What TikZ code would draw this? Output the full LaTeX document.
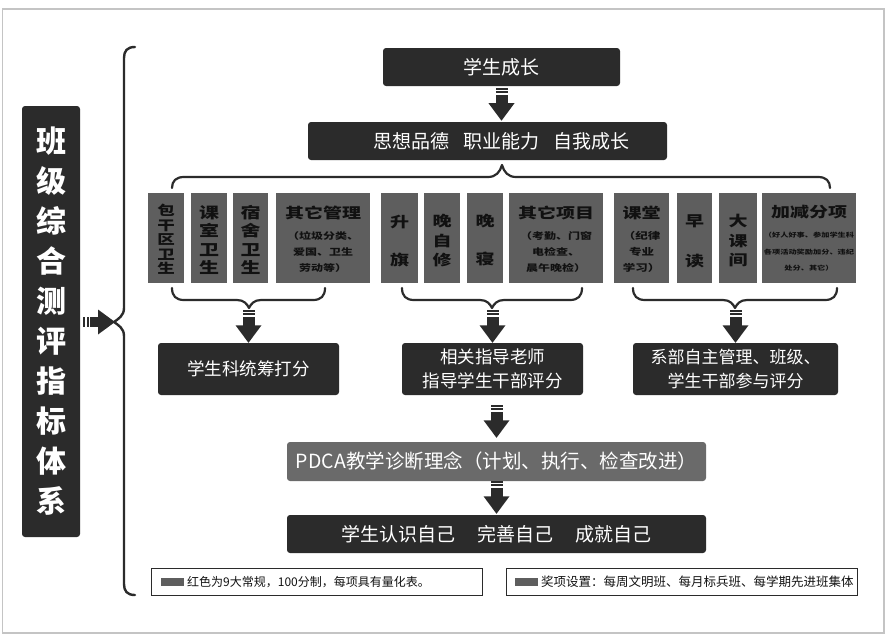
\documentclass[tikz,border=0pt]{standalone}
\usepackage{fontspec}
\usepackage{graphicx}
\setmainfont{Noto Sans CJK SC}
\usetikzlibrary{calc}
\definecolor{dk}{HTML}{2B2B2B}
\definecolor{gb}{HTML}{5E5E5E}
\definecolor{pd}{HTML}{6A6A6A}
\definecolor{fr}{HTML}{C4C4C4}
\definecolor{gt}{HTML}{111111}
\newcommand\vsq[1]{\scalebox{1}[0.76]{#1}}
\tikzset{
  dkbox/.style={fill=dk, rounded corners=3pt, text=white, inner sep=0pt, align=center},
  gbox/.style={fill=gb, inner sep=0pt},
  gtext/.style={text=gt, align=center, inner sep=0pt},
  gtitle/.style={text=gt, inner sep=0pt, font=\fontsize{19}{20}\selectfont\bfseries},
  brace/.style={draw=dk, line width=2.2pt, line cap=round, line join=round},
  legbox/.style={draw=dk, line width=1pt, inner sep=0pt, minimum height=27},
  legsq/.style={fill=gb, inner sep=0pt, minimum width=23, minimum height=8},
  darrow/.pic={
    \fill[dk] (-6,0) rectangle (6,2);
    \fill[dk] (-6,3.5) rectangle (6,5.5);
    \fill[dk] (-6,7) rectangle (6,16);
    \fill[dk] (-13,15.5) -- (13,15.5) -- (0,33) -- cycle;
  },
  rarrow/.pic={
    \fill[dk] (0,-5) rectangle (2,5);
    \fill[dk] (3.5,-5) rectangle (5.5,5);
    \fill[dk] (7,-5) rectangle (15.5,5);
    \fill[dk] (15,-12.5) -- (15,12.5) -- (32,0) -- cycle;
  }
}
\begin{document}
\begin{tikzpicture}[x=1pt,y=-1pt]
\path[use as bounding box] (0,0) rectangle (887,637);
\draw[fr, line width=1.2pt] (2.5,9) rectangle (884,633);

% left title
\node[dkbox, minimum width=58, minimum height=431, font=\fontsize{30}{40}\selectfont\bfseries] (title) at (51,321.5)
  {班\\级\\综\\合\\测\\评\\指\\标\\体\\系};
\pic at (83,322) {rarrow};

% big brace
\draw[brace, line width=2.4pt] (135,47) .. controls (127,47) and (124,51) .. (124,58) -- (124,308)
  .. controls (124,316) and (118,319) .. (114,322) .. controls (118,325) and (124,328) .. (124,336)
  -- (124,584) .. controls (124,591) and (127,595) .. (135,595);

% top
\node[dkbox, minimum width=237, minimum height=38, font=\fontsize{19}{22}\selectfont] (grow) at (501.5,67) {学生成长};
\pic at ($(grow.south)+(0,1.5)$) {darrow};
\node[dkbox, minimum width=359, minimum height=38, font=\fontsize{19}{22}\selectfont] (abil) at (487.5,141)
  {\hspace{28pt}思想品德\hspace{14pt}职业能力\hspace{14pt}自我成长};

% upper brace
\draw[brace] (172,188) .. controls (172,181) and (176,177) .. (184,177) -- (488,177)
  .. controls (496,177) and (500,172) .. (502,165) .. controls (504,172) and (508,177) .. (516,177)
  -- (818,177) .. controls (826,177) and (830,181) .. (830,188);

% gray boxes
\node[gbox, minimum width=36, minimum height=90] (b1) at (166,238) {};
\node[gbox, minimum width=36, minimum height=90] (b2) at (209,238) {};
\node[gbox, minimum width=35, minimum height=90] (b3) at (250.5,238) {};
\node[gbox, minimum width=94, minimum height=90] (b4) at (323,238) {};
\node[gbox, minimum width=37, minimum height=90] (b5) at (399.5,238) {};
\node[gbox, minimum width=36, minimum height=90] (b6) at (442,238) {};
\node[gbox, minimum width=36, minimum height=90] (b7) at (485,238) {};
\node[gbox, minimum width=94, minimum height=90] (b8) at (556,238) {};
\node[gbox, minimum width=55, minimum height=90] (b9) at (641.5,238) {};
\node[gbox, minimum width=35, minimum height=90] (b10) at (694.5,238) {};
\node[gbox, minimum width=38, minimum height=90] (b11) at (738,238) {};
\node[gbox, minimum width=94, minimum height=90] (b12) at (809,238) {};

% gray box texts
\node[gtext, font=\fontsize{17.5}{14.5}\selectfont\bfseries] (t1) at (166,239.5) {\vsq{包}\\\vsq{干}\\\vsq{区}\\\vsq{卫}\\\vsq{生}};
\node[gtext, font=\fontsize{20}{18.3}\selectfont\bfseries] (t2) at (209,240) {\vsq{课}\\\vsq{室}\\\vsq{卫}\\\vsq{生}};
\node[gtext, font=\fontsize{20}{18.3}\selectfont\bfseries] (t3) at (250.5,240) {\vsq{宿}\\\vsq{舍}\\\vsq{卫}\\\vsq{生}};
\node[gtitle] (h4) at (323,213) {\vsq{其它管理}};
\node[gtext, font=\fontsize{12}{16}\selectfont\bfseries] (s4) at (323,252) {\vsq{（垃圾分类、}\\\vsq{爱国、卫生}\\\vsq{劳动等）}};
\node[gtext, font=\fontsize{19}{38}\selectfont\bfseries] (t5) at (399.5,241.5) {\vsq{升}\\\vsq{旗}};
\node[gtext, font=\fontsize{19}{19.5}\selectfont\bfseries] (t6) at (442,241) {\vsq{晚}\\\vsq{自}\\\vsq{修}};
\node[gtext, font=\fontsize{19}{38}\selectfont\bfseries] (t7) at (485,240.5) {\vsq{晚}\\\vsq{寝}};
\node[gtitle] (h8) at (556,213) {\vsq{其它项目}};
\node[gtext, font=\fontsize{12}{16}\selectfont\bfseries] (s8) at (556,252) {\vsq{（考勤、门窗}\\\vsq{电检查、}\\\vsq{晨午晚检）}};
\node[gtitle] (h9) at (641.5,213) {\vsq{课堂}};
\node[gtext, font=\fontsize{12.5}{16}\selectfont\bfseries] (s9) at (641.5,252) {\vsq{（纪律}\\\vsq{专业}\\\vsq{学习）}};
\node[gtext, font=\fontsize{19}{40}\selectfont\bfseries] (t10) at (694.5,241.5) {\vsq{早}\\\vsq{读}};
\node[gtext, font=\fontsize{19}{19.7}\selectfont\bfseries] (t11) at (738,240.5) {\vsq{大}\\\vsq{课}\\\vsq{间}};
\node[gtitle] (h12) at (809,212) {\vsq{加减分项}};
\node[gtext, font=\fontsize{8.2}{16.5}\selectfont\bfseries] (s12) at (809,252) {\vsq{（好人好事、参加学生科}\\\vsq{各项活动奖励加分、违纪}\\\vsq{处分、其它）}};

% lower braces
\draw[brace] (172,288) .. controls (172,296) and (176,300) .. (184,300) -- (237,300)
  .. controls (244,300) and (247,304) .. (249,308) .. controls (251,304) and (254,300) .. (261,300)
  -- (313,300) .. controls (321,300) and (325,296) .. (325,288);
\draw[brace] (402,288) .. controls (402,296) and (406,300) .. (414,300) -- (480,300)
  .. controls (487,300) and (490,304) .. (492,308) .. controls (494,304) and (497,300) .. (504,300)
  -- (570,300) .. controls (578,300) and (582,296) .. (582,288);
\draw[brace] (633,288) .. controls (633,296) and (637,300) .. (645,300) -- (723,300)
  .. controls (730,300) and (733,304) .. (735,308) .. controls (737,304) and (740,300) .. (747,300)
  -- (825,300) .. controls (833,300) and (837,296) .. (837,288);

% score boxes
\node[dkbox, minimum width=181, minimum height=52, font=\fontsize{17.5}{24.5}\selectfont] (sc1) at (248.5,369) {学生科统筹打分};
\node[dkbox, minimum width=181, minimum height=52, font=\fontsize{17.5}{24.5}\selectfont] (sc2) at (492.5,369) {相关指导老师\\指导学生干部评分};
\node[dkbox, minimum width=205, minimum height=52, font=\fontsize{17}{23.5}\selectfont] (sc3) at (735.5,369) {系部自主管理、班级、\\学生干部参与评分};
\pic at ($(sc1.north)+(0,-33)$) {darrow};
\pic at ($(sc2.north)+(0,-33)$) {darrow};
\pic at ($(sc3.north)+(0,-33)$) {darrow};

% PDCA and final
\node[dkbox, fill=pd, minimum width=419, minimum height=39, font=\fontsize{19.5}{22}\selectfont] (pdca) at (496.5,461.5)
  {PDCA教学诊断理念（计划、执行、检查改进）};
\pic at ($(pdca.north)+(0,-37)$) {darrow};
\node[dkbox, minimum width=419, minimum height=38, font=\fontsize{19}{22}\selectfont] (final) at (496.5,534)
  {学生认识自己\hspace{22pt}完善自己\hspace{22pt}成就自己};
\pic at ($(final.north)+(0,-34)$) {darrow};

% legend
\node[legbox, minimum width=331] (leg1) at (317,582) {};
\node[legsq] (sq1) at (172.5,582) {};
\node[inner sep=0pt, anchor=west, font=\fontsize{12}{14}\selectfont, text=gt] (lt1) at (187,582) {红色为9大常规，100分制，每项具有量化表。};
\node[legbox, minimum width=350.5] (leg2) at (681.75,582) {};
\node[legsq] (sq2) at (526.5,582) {};
\node[inner sep=0pt, anchor=west, font=\fontsize{12.5}{14}\selectfont, text=gt] (lt2) at (541,582) {奖项设置：每周文明班、每月标兵班、每学期先进班集体};
\end{tikzpicture}
\end{document}
